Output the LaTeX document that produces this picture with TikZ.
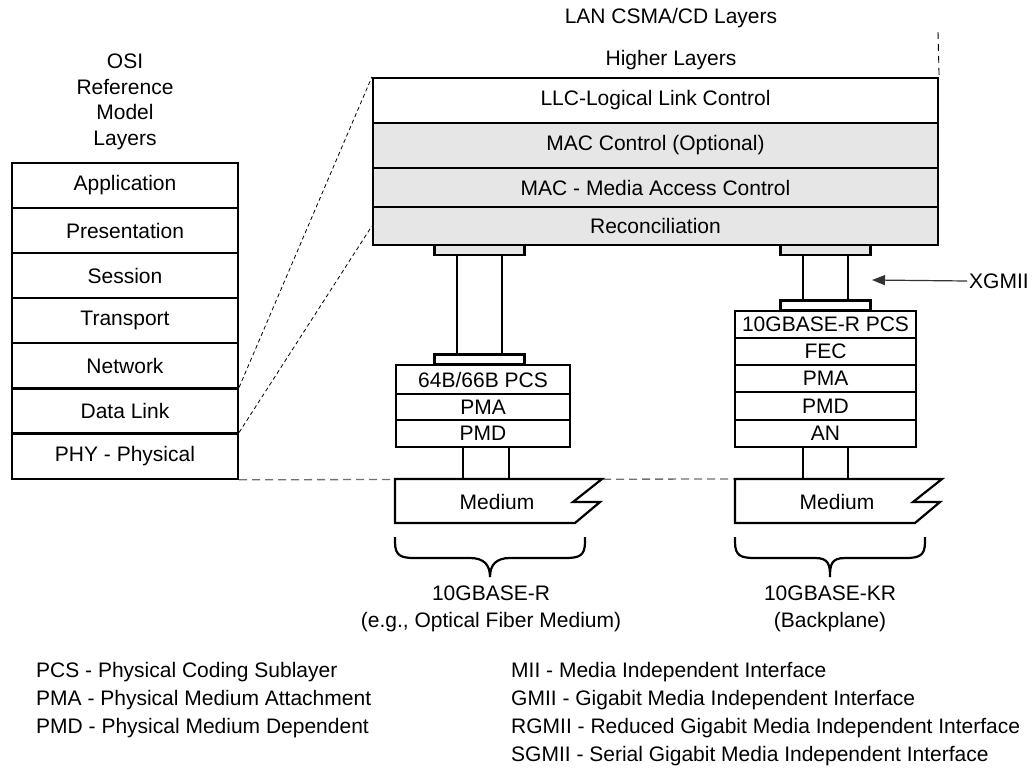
\documentclass[tikz,border=0pt]{standalone}
\usepackage{fontspec}
\setmainfont{Liberation Sans}
\usetikzlibrary{arrows.meta}
\definecolor{layergray}{HTML}{E6E6E6}
\definecolor{dashgray}{HTML}{707070}
\definecolor{arrowgray}{HTML}{333333}
\begin{document}
\begin{tikzpicture}[x=1pt,y=-1pt,
  txt/.style={font=\fontsize{21}{25.5}\selectfont, inner sep=0pt},
  layer/.style={draw, line width=2.2pt, inner sep=0pt, fill=white, font=\fontsize{21}{25}\selectfont},
  graylayer/.style={layer, fill=layergray},
  smallbox/.style={draw, line width=2.2pt, inner sep=0pt, minimum width=90, minimum height=10},
  pipe/.style={line width=2.2pt},
  thindash/.style={line width=0.8pt, dash pattern=on 4pt off 3pt},
  bottomdash/.style={line width=1.3pt, dashgray, dash pattern=on 8pt off 5pt},
  mediumshape/.style={draw, line width=2.2pt, fill=white, line join=miter},
  bracepath/.style={line width=2.2pt},
]
\useasboundingbox (0,0) rectangle (1033,771);

% ---------- OSI model ----------
\node[txt, align=center, anchor=north] (osititle) at (125,54) {OSI\\Reference\\Model\\Layers};
\node[layer, minimum width=226, minimum height=45.1] (app)  at (125,185.5) {Application};
\node[layer, minimum width=226, minimum height=45.1] (pres) at (125,230.6) {Presentation};
\node[layer, minimum width=226, minimum height=45.1] (sess) at (125,275.7) {Session};
\node[layer, minimum width=226, minimum height=45.1] (trans) at (125,320.8) {Transport};
\node[layer, minimum width=226, minimum height=45.1] (net)  at (125,365.9) {Network};
\node[layer, minimum width=226, minimum height=45.1] (dl)   at (125,411.0) {Data Link};
\node[layer, minimum width=226, minimum height=45.1] (phy)  at (125,456.1) {PHY - Physical};

% ---------- LAN CSMA/CD ----------
\node[txt] (lantitle) at (671,18) {LAN CSMA/CD Layers};
\node[txt] (higher) at (671,60) {Higher Layers};
\node[layer, minimum width=565, minimum height=45] (llc) at (655.5,100.5) {LLC-Logical Link Control};
\node[graylayer, minimum width=565, minimum height=45] (macc) at (655.5,145.5) {MAC Control (Optional)};
\node[graylayer, minimum width=565, minimum height=39] (mac) at (655.5,187.5) {MAC - Media Access Control};
\node[graylayer, minimum width=565, minimum height=38] (recon) at (655.5,226) {Reconciliation};
\coordinate (vtop) at (938,32);
\draw[line width=0.9pt, dash pattern=on 7pt off 5pt] (vtop) -- (llc.north east);

% zoom dashed lines
\draw[thindash] (dl.north east) -- (llc.north west);
\draw[thindash] (phy.north east) -- (recon.west);

% bottom dashed line
\coordinate (mlt) at (395,479);
\coordinate (mrt) at (735,479);
\draw[bottomdash] (phy.south east) -- (mrt);

% ---------- left PHY (10GBASE-R) ----------
\node[smallbox, fill=layergray] (gl) at (479.5,250) {};
\node[smallbox, fill=white] (wl) at (479.5,359.5) {};
\draw[pipe] ([xshift=-22.5]gl.south) -- ([xshift=-22.5]wl.north);
\draw[pipe] ([xshift=22.5]gl.south) -- ([xshift=22.5]wl.north);
\node[layer, minimum width=174, minimum height=29] (pcsl) at (483,379.5) {64B/66B PCS};
\node[layer, minimum width=174, minimum height=26] (pmal) at (483,407) {PMA};
\node[layer, minimum width=174, minimum height=27] (pmdl) at (483,433.5) {PMD};
\draw[pipe] ([xshift=-20]pmdl.south) -- ([xshift=-20]pmdl.south |- mlt);
\draw[pipe] ([xshift=26]pmdl.south) -- ([xshift=26]pmdl.south |- mlt);
\draw[mediumshape] (mlt) -- (602,479) -- (573,502) -- (600,502) -- (575,523) -- (395,523) -- cycle;
\node[txt] (medl) at (497,502) {Medium};
\draw[bracepath] (395,537) -- (395,542) .. controls (395,556) and (401,558) .. (415,558) -- (470,558) .. controls (484,558) and (490,565) .. (490,577)
  .. controls (490,565) and (496,558) .. (510,558) -- (565,558) .. controls (579,558) and (585,556) .. (585,542) -- (585,537);
\node[txt, align=center, anchor=north, font=\fontsize{21}{27}\selectfont] (lbl) at (491,585.5) {10GBASE-R\\(e.g., Optical Fiber Medium)};

% ---------- right PHY (10GBASE-KR) ----------
\node[smallbox, fill=layergray] (gr) at (825.5,250) {};
\node[smallbox, fill=white] (wr) at (825.5,305.5) {};
\draw[pipe] ([xshift=-22.5]gr.south) -- ([xshift=-22.5]wr.north);
\draw[pipe] ([xshift=22.5]gr.south) -- ([xshift=22.5]wr.north);
\node[layer, minimum width=181, minimum height=27] (pcsr) at (825.5,324.5) {10GBASE-R PCS};
\node[layer, minimum width=181, minimum height=27] (fecr) at (825.5,351.5) {FEC};
\node[layer, minimum width=181, minimum height=27] (pmar) at (825.5,378.5) {PMA};
\node[layer, minimum width=181, minimum height=28] (pmdr) at (825.5,406) {PMD};
\node[layer, minimum width=181, minimum height=27] (anr) at (825.5,433.5) {AN};
\draw[pipe] ([xshift=-22.5]anr.south) -- ([xshift=-22.5]anr.south |- mrt);
\draw[pipe] ([xshift=22.5]anr.south) -- ([xshift=22.5]anr.south |- mrt);
\draw[mediumshape] (mrt) -- (942,479) -- (913,502) -- (940,502) -- (915,523) -- (735,523) -- cycle;
\node[txt] (medr) at (837,502) {Medium};
\draw[bracepath] (735,537) -- (735,542) .. controls (735,556) and (741,558) .. (755,558) -- (815,558) .. controls (829,558) and (830,565) .. (830,577)
  .. controls (830,565) and (831,558) .. (845,558) -- (905,558) .. controls (919,558) and (925,556) .. (925,542) -- (925,537);
\node[txt, align=center, anchor=north, font=\fontsize{21}{27}\selectfont] (lbr) at (830,585.5) {10GBASE-KR\\(Backplane)};

% XGMII
\node[txt, anchor=west] (xg) at (969,281) {XGMII};
\coordinate (xgt) at (872,280);
\draw[arrowgray, line width=1.2pt, -{Triangle[length=13pt,width=10pt]}] ([xshift=-2pt]xg.west) -- (xgt);

% ---------- legend ----------
\node[txt, anchor=base west] (lg1) at (36,677) {PCS - Physical Coding Sublayer};
\node[txt, anchor=base west] (lg2) at (36,705) {PMA - Physical Medium Attachment};
\node[txt, anchor=base west] (lg3) at (36,733) {PMD - Physical Medium Dependent};
\node[txt, anchor=base west] (lg4) at (511,677) {MII - Media Independent Interface};
\node[txt, anchor=base west] (lg5) at (511,705) {GMII - Gigabit Media Independent Interface};
\node[txt, anchor=base west] (lg6) at (511,733) {RGMII - Reduced Gigabit Media Independent Interface};
\node[txt, anchor=base west] (lg7) at (511,761) {SGMII - Serial Gigabit Media Independent Interface};
\end{tikzpicture}
\end{document}
